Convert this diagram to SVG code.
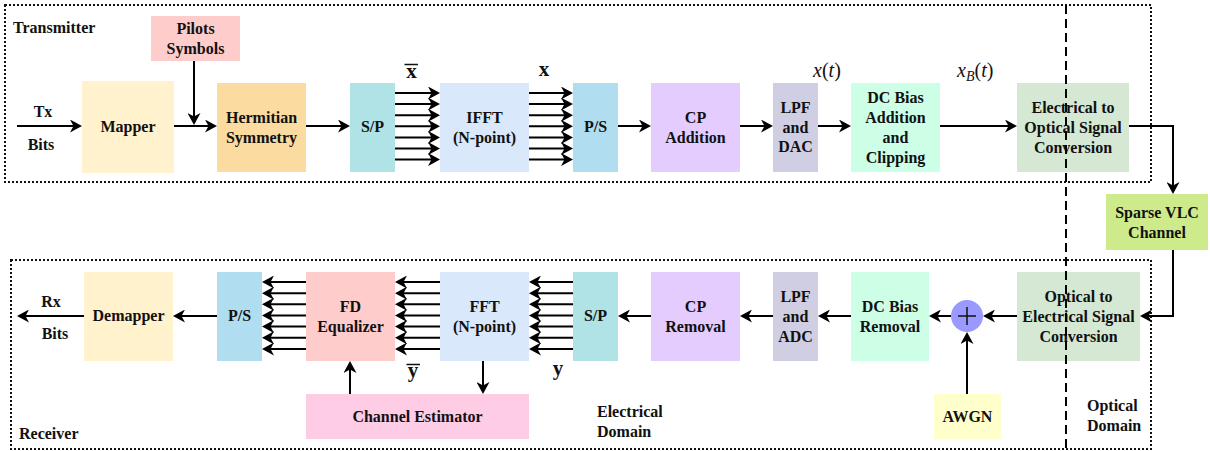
<svg xmlns="http://www.w3.org/2000/svg" width="1210" height="451" viewBox="0 0 1210 451">
<style>
.t{font-family:"Liberation Serif","Times New Roman",serif;font-weight:bold;font-size:16px;fill:#111;text-anchor:middle}
.l{font-family:"Liberation Serif","Times New Roman",serif;font-weight:bold;font-size:16px;fill:#111}
.v{font-family:"Liberation Serif","Times New Roman",serif;font-weight:bold;font-size:21px;fill:#111;text-anchor:middle}
.m{font-family:"Liberation Serif","Times New Roman",serif;font-size:20px;fill:#111}
.c{stroke:#000;stroke-width:2;fill:none;marker-end:url(#a)}
.dot{fill:none;stroke:#111;stroke-width:2;stroke-dasharray:2 2}
</style>
<defs>
<marker id="a" markerUnits="userSpaceOnUse" markerWidth="12" markerHeight="13" viewBox="0 0 12 13" refX="8" refY="6.5" orient="auto">
<path d="M0,0 L12,6.5 L0,13 L3.5,6.5 z" fill="#000"/>
</marker>
</defs>
<rect width="1210" height="451" fill="#fff"/>
<g id="frames">
<rect class="dot" x="5" y="5" width="1146" height="177"/>
<rect class="dot" x="11" y="260" width="1140" height="189"/>
</g>
<g id="labels">
<text class="l" x="13" y="33">Transmitter</text>
<text class="l" x="19" y="439">Receiver</text>
<text class="l" x="597" y="417">Electrical</text>
<text class="l" x="597" y="437">Domain</text>
<text class="l" x="1087" y="411">Optical</text>
<text class="l" x="1087" y="431">Domain</text>
<text class="t" x="43" y="117">Tx</text>
<text class="t" x="41" y="150">Bits</text>
<text class="t" x="51" y="307">Rx</text>
<text class="t" x="55" y="339">Bits</text>
<text class="v" x="411.5" y="78">x</text>
<line x1="404.5" y1="64.5" x2="418" y2="64.5" stroke="#111" stroke-width="1.5"/>
<text class="v" x="544" y="76">x</text>
<text class="m" x="813" y="77"><tspan font-style="italic">x</tspan>(<tspan font-style="italic">t</tspan>)</text>
<text class="m" x="957" y="77"><tspan font-style="italic">x</tspan><tspan font-style="italic" font-size="14" dy="4">B</tspan><tspan dy="-4">(</tspan><tspan font-style="italic">t</tspan>)</text>
<text class="v" x="413" y="377">y</text>
<line x1="406.5" y1="364.5" x2="420" y2="364.5" stroke="#111" stroke-width="1.5"/>
<text class="v" x="558" y="375">y</text>
</g>
<g id="pilots"><rect x="151" y="16" width="89" height="45" fill="#ffcccc"/><text class="t" x="195.5" y="34">Pilots</text><text class="t" x="195.5" y="54">Symbols</text></g>
<g id="mapper"><rect x="82" y="81" width="92" height="92" fill="#fff2cc"/><text class="t" x="128" y="132">Mapper</text></g>
<g id="hermitian"><rect x="217" y="83" width="89" height="89" fill="#fcdba0"/><text class="t" x="261.5" y="123">Hermitian</text><text class="t" x="261.5" y="143">Symmetry</text></g>
<g id="sp-tx"><rect x="350" y="83" width="45" height="89" fill="#b0e3e6"/><text class="t" x="372.5" y="132">S/P</text></g>
<g id="ifft"><rect x="440" y="83" width="89" height="89" fill="#dae8fc"/><text class="t" x="484.5" y="123">IFFT</text><text class="t" x="484.5" y="143">(N-point)</text></g>
<g id="ps-tx"><rect x="573" y="83" width="45" height="89" fill="#b1ddf0"/><text class="t" x="595.5" y="132">P/S</text></g>
<g id="cp-add"><rect x="651" y="83" width="89" height="89" fill="#e5ccff"/><text class="t" x="695.5" y="123">CP</text><text class="t" x="695.5" y="143">Addition</text></g>
<g id="lpf-dac"><rect x="773" y="83" width="45" height="89" fill="#d0cee2"/><text class="t" x="795.5" y="113">LPF</text><text class="t" x="795.5" y="133">and</text><text class="t" x="795.5" y="152">DAC</text></g>
<g id="dc-add"><rect x="851" y="83" width="89" height="89" fill="#ccffe6"/><text class="t" x="895.5" y="103">DC Bias</text><text class="t" x="895.5" y="123">Addition</text><text class="t" x="895.5" y="143">and</text><text class="t" x="895.5" y="163">Clipping</text></g>
<g id="e2o"><rect x="1017" y="83" width="112" height="89" fill="#d5e8d4"/><text class="t" x="1073" y="113">Electrical to</text><text class="t" x="1073" y="133">Optical Signal</text><text class="t" x="1073" y="153">Conversion</text></g>
<g id="channel"><rect x="1106" y="194" width="102" height="56" fill="#cdeb8b"/><text class="t" x="1157" y="218">Sparse VLC</text><text class="t" x="1157" y="238">Channel</text></g>
<g id="o2e"><rect x="1017" y="272" width="123" height="89" fill="#d5e8d4"/><text class="t" x="1078.5" y="302">Optical to</text><text class="t" x="1078.5" y="322">Electrical Signal</text><text class="t" x="1078.5" y="342">Conversion</text></g>
<g id="adder"><circle cx="967" cy="316" r="16" fill="#9999ff"/><path d="M958,316 H976 M967,307 V325" stroke="#111" stroke-width="1.5"/></g>
<g id="awgn"><rect x="934" y="394" width="67" height="45" fill="#ffffcc"/><text class="t" x="967.5" y="422">AWGN</text></g>
<g id="dc-rem"><rect x="851" y="272" width="78" height="89" fill="#ccffe6"/><text class="t" x="890" y="312">DC Bias</text><text class="t" x="890" y="332">Removal</text></g>
<g id="lpf-adc"><rect x="773" y="272" width="45" height="89" fill="#d0cee2"/><text class="t" x="795.5" y="302">LPF</text><text class="t" x="795.5" y="322">and</text><text class="t" x="795.5" y="342">ADC</text></g>
<g id="cp-rem"><rect x="651" y="272" width="89" height="89" fill="#e5ccff"/><text class="t" x="695.5" y="312">CP</text><text class="t" x="695.5" y="332">Removal</text></g>
<g id="sp-rx"><rect x="573" y="272" width="45" height="89" fill="#b0e3e6"/><text class="t" x="595.5" y="321">S/P</text></g>
<g id="fft"><rect x="440" y="272" width="89" height="89" fill="#dae8fc"/><text class="t" x="484.5" y="312">FFT</text><text class="t" x="484.5" y="332">(N-point)</text></g>
<g id="fd-eq"><rect x="306" y="272" width="89" height="89" fill="#ffcccc"/><text class="t" x="350.5" y="312">FD</text><text class="t" x="350.5" y="332">Equalizer</text></g>
<g id="ps-rx"><rect x="217" y="272" width="45" height="89" fill="#b1ddf0"/><text class="t" x="239.5" y="321">P/S</text></g>
<g id="demapper"><rect x="84" y="272" width="89" height="89" fill="#fff2cc"/><text class="t" x="128.5" y="321">Demapper</text></g>
<g id="estimator"><rect x="306" y="394" width="223" height="45" fill="#ffcce6"/><text class="t" x="417.5" y="422">Channel Estimator</text></g>
<g id="connectors">
<line class="c" x1="17" y1="126" x2="78" y2="126"/>
<line class="c" x1="174" y1="126" x2="213" y2="126"/>
<line class="c" x1="194" y1="61" x2="194" y2="121"/>
<line class="c" x1="306" y1="126" x2="346" y2="126"/>
<g>
<line class="c" x1="395" y1="93" x2="436" y2="93"/>
<line class="c" x1="395" y1="104.1" x2="436" y2="104.1"/>
<line class="c" x1="395" y1="115.2" x2="436" y2="115.2"/>
<line class="c" x1="395" y1="126.3" x2="436" y2="126.3"/>
<line class="c" x1="395" y1="137.4" x2="436" y2="137.4"/>
<line class="c" x1="395" y1="148.5" x2="436" y2="148.5"/>
<line class="c" x1="395" y1="159.6" x2="436" y2="159.6"/>
</g>
<g>
<line class="c" x1="529" y1="93" x2="569" y2="93"/>
<line class="c" x1="529" y1="104.1" x2="569" y2="104.1"/>
<line class="c" x1="529" y1="115.2" x2="569" y2="115.2"/>
<line class="c" x1="529" y1="126.3" x2="569" y2="126.3"/>
<line class="c" x1="529" y1="137.4" x2="569" y2="137.4"/>
<line class="c" x1="529" y1="148.5" x2="569" y2="148.5"/>
<line class="c" x1="529" y1="159.6" x2="569" y2="159.6"/>
</g>
<line class="c" x1="618" y1="126" x2="647" y2="126"/>
<line class="c" x1="740" y1="126" x2="769" y2="126"/>
<line class="c" x1="818" y1="126" x2="847" y2="126"/>
<line class="c" x1="940" y1="126" x2="1013" y2="126"/>
<polyline class="c" points="1129,126 1173,126 1173,190"/>
<polyline class="c" points="1173,250 1173,316 1144,316"/>
<line class="c" x1="1017" y1="316" x2="987" y2="316"/>
<line class="c" x1="967" y1="394" x2="967" y2="336"/>
<line class="c" x1="951" y1="316" x2="933" y2="316"/>
<line class="c" x1="851" y1="316" x2="822" y2="316"/>
<line class="c" x1="773" y1="316" x2="744" y2="316"/>
<line class="c" x1="651" y1="316" x2="622" y2="316"/>
<g>
<line class="c" x1="573" y1="282" x2="533" y2="282"/>
<line class="c" x1="573" y1="293.2" x2="533" y2="293.2"/>
<line class="c" x1="573" y1="304.3" x2="533" y2="304.3"/>
<line class="c" x1="573" y1="315.5" x2="533" y2="315.5"/>
<line class="c" x1="573" y1="326.6" x2="533" y2="326.6"/>
<line class="c" x1="573" y1="337.8" x2="533" y2="337.8"/>
<line class="c" x1="573" y1="349" x2="533" y2="349"/>
</g>
<g>
<line class="c" x1="440" y1="282" x2="399" y2="282"/>
<line class="c" x1="440" y1="293.2" x2="399" y2="293.2"/>
<line class="c" x1="440" y1="304.3" x2="399" y2="304.3"/>
<line class="c" x1="440" y1="315.5" x2="399" y2="315.5"/>
<line class="c" x1="440" y1="326.6" x2="399" y2="326.6"/>
<line class="c" x1="440" y1="337.8" x2="399" y2="337.8"/>
<line class="c" x1="440" y1="349" x2="399" y2="349"/>
</g>
<g>
<line class="c" x1="306" y1="282" x2="266" y2="282"/>
<line class="c" x1="306" y1="293.2" x2="266" y2="293.2"/>
<line class="c" x1="306" y1="304.3" x2="266" y2="304.3"/>
<line class="c" x1="306" y1="315.5" x2="266" y2="315.5"/>
<line class="c" x1="306" y1="326.6" x2="266" y2="326.6"/>
<line class="c" x1="306" y1="337.8" x2="266" y2="337.8"/>
<line class="c" x1="306" y1="349" x2="266" y2="349"/>
</g>
<line class="c" x1="217" y1="316" x2="177" y2="316"/>
<line class="c" x1="84" y1="316" x2="21" y2="316"/>
<line class="c" x1="350" y1="394" x2="350" y2="365"/>
<line class="c" x1="483" y1="361" x2="483" y2="390"/>
</g>
<g id="domain-divider">
<line x1="1066" y1="5" x2="1066" y2="451" stroke="#000" stroke-width="2" stroke-dasharray="9 5"/>
</g>
</svg>
